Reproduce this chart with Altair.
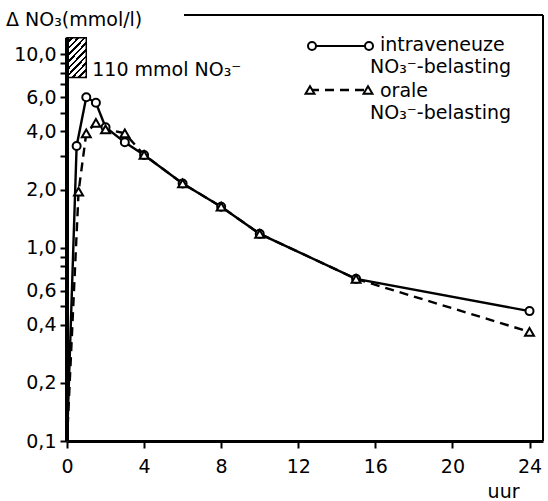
import altair as alt
import pandas as pd

# Plasma nitrate rise after a 110 mmol NO3- load (hours after start)
iv_hours = [0, 0.5, 1, 1.5, 2, 3, 4, 6, 8, 10, 15, 24]
iv_no3 = [0.1, 3.36, 6.0, 5.62, 4.2, 3.51, 3.02, 2.15, 1.63, 1.18, 0.69, 0.47]

oral_hours = [0, 0.6, 1, 1.5, 2, 3, 4, 6, 8, 10, 15, 24]
oral_no3 = [0.1, 1.95, 3.91, 4.43, 4.10, 3.91, 3.02, 2.15, 1.63, 1.18, 0.69, 0.367]

# Administration period of the load
dose_start, dose_end = 0, 1
dose_label = "110 mmol NO₃⁻"

y_tick_values = [0.1, 0.2, 0.4, 0.5, 0.6, 0.7, 0.8, 0.9, 1, 2, 3, 4, 5, 6, 7, 8, 9, 10]
y_label_values = [0.1, 0.2, 0.4, 0.6, 1, 2, 4, 6, 10]
x_tick_values = list(range(0, 25, 2))

FONT = "DejaVu Sans"
FS = 19
W, H = 476, 426

iv = pd.DataFrame({"uur": iv_hours, "no3": iv_no3})
oral = pd.DataFrame({"uur": oral_hours, "no3": oral_no3})
dose = pd.DataFrame({"t0": [dose_start], "t1": [dose_end], "lo": [7.6], "hi": [12.2], "floor": [0.1]})

x_scale = alt.Scale(domain=[0, 24.7], nice=False, zero=False)
y_scale = alt.Scale(type="log", domain=[0.1, 16], nice=False)

label_list = ",".join(str(v) for v in y_label_values)
y_axis = alt.Axis(
    values=y_tick_values,
    labelExpr=f"indexof([{label_list}], datum.value) >= 0 ? replace(format(datum.value, '.1f'), '.', ',') : ''",
    domain=False, tickSize=7, tickWidth=2, labelPadding=4, title=None,
)
x_axis = alt.Axis(
    values=x_tick_values,
    labelExpr="datum.value % 4 == 0 ? datum.label : ''",
    domainWidth=3, tickSize=7, tickWidth=2, labelPadding=9,
    title="uur", titleFont=FONT, titleFontSize=FS, titleFontWeight="normal",
    titleAnchor="end", titleAlign="right", titleBaseline="middle",
    titleX=W - 24, titleY=50, labelFlush=False,
)

X = alt.X("uur:Q", scale=x_scale, axis=x_axis)
Y = alt.Y("no3:Q", scale=y_scale, axis=y_axis)

iv_line = alt.Chart(iv).mark_line(color="black", strokeWidth=2.4).encode(x=X, y=Y)
oral_line = alt.Chart(oral).mark_line(color="black", strokeWidth=2.4, strokeDash=[9, 6]).encode(x=X, y=Y)

iv_pts = alt.Chart(iv).transform_filter("datum.uur > 0").mark_point(
    shape="circle", filled=True, fill="white", stroke="black", strokeWidth=2, size=64, opacity=1
).encode(x=X, y=Y)
oral_pts = alt.Chart(oral).transform_filter("datum.uur > 0").mark_point(
    shape="triangle-up", filled=True, fill="white", stroke="black", strokeWidth=2, size=80, opacity=1
).encode(x=X, y=Y)

# Hatched block marking the load
stops = []
n = 9
for k in range(n):
    stops += [
        alt.GradientStop(color="white", offset=k / n),
        alt.GradientStop(color="white", offset=(k + 0.6) / n),
        alt.GradientStop(color="black", offset=(k + 0.6) / n),
        alt.GradientStop(color="black", offset=(k + 1) / n),
    ]
hatch = alt.LinearGradient(gradient="linear", stops=stops, x1=0, y1=0, x2=0.615, y2=1.198)
dose_box = alt.Chart(dose).mark_rect(fill=hatch, stroke="black", strokeWidth=1.5).encode(
    x=alt.X("t0:Q"), x2="t1:Q",
    y=alt.Y("lo:Q"), y2="hi:Q",
)
dose_text = alt.Chart(dose).mark_text(
    text=dose_label, font=FONT, fontSize=FS, align="left", baseline="middle", dx=6
).encode(
    x=alt.X("t1:Q"),
    y=alt.value(55),
)

# Left axis line running up to the load block
y_domain = alt.Chart(dose).mark_rule(color="black", strokeWidth=4).encode(
    x=alt.X("t0:Q"), y=alt.Y("floor:Q"), y2="hi:Q",
)


def fixed_rule(x, x2, y, y2, dash=None):
    kw = {"color": "black", "strokeWidth": 2}
    if dash:
        kw["strokeDash"] = dash
        kw["strokeWidth"] = 2.4
    return alt.Chart(pd.DataFrame({"k": [0]})).mark_rule(**kw).encode(
        x=alt.value(x), x2=alt.value(x2), y=alt.value(y), y2=alt.value(y2)
    )


def fixed_point(x, y, shape, size):
    return alt.Chart(pd.DataFrame({"k": [0]})).mark_point(
        shape=shape, filled=True, fill="white", stroke="black", strokeWidth=2, size=size, opacity=1
    ).encode(x=alt.value(x), y=alt.value(y))


def fixed_text(x, y, t):
    return alt.Chart(pd.DataFrame({"t": [t]})).mark_text(
        font=FONT, fontSize=FS, align="left", baseline="middle"
    ).encode(text="t:N", x=alt.value(x), y=alt.value(y))


# Frame: top and right edges
frame_top = fixed_rule(117, W, 0, 0)
frame_right = fixed_rule(W, W, 0, H)

title_text = fixed_text(-61, 5, "Δ NO₃(mmol/l)")

# Legend
legend = [
    fixed_rule(245, 302, 31, 31),
    fixed_rule(243, 301, 75, 75, dash=[9, 6]),
    fixed_point(245, 31, "circle", 64),
    fixed_point(302, 31, "circle", 64),
    fixed_point(243, 75, "triangle-up", 80),
    fixed_point(301, 75, "triangle-up", 80),
    fixed_text(313, 30, "intraveneuze"),
    fixed_text(303, 52, "NO₃⁻-belasting"),
    fixed_text(313, 76, "orale"),
    fixed_text(303, 98, "NO₃⁻-belasting"),
]

chart = alt.layer(
    iv_line, oral_line, iv_pts, oral_pts, dose_box, dose_text, y_domain,
    frame_top, frame_right, title_text, *legend,
).properties(
    width=W, height=H,
    padding={"left": 67, "top": 15, "right": 5, "bottom": 60},
    autosize="none",
).configure_view(strokeWidth=0).configure_axis(
    grid=False, domainColor="black", tickColor="black", labelColor="black",
    labelFont=FONT, labelFontSize=FS, titleColor="black",
)

chart.save("out.html", embed_options={"renderer": "svg", "actions": False})
